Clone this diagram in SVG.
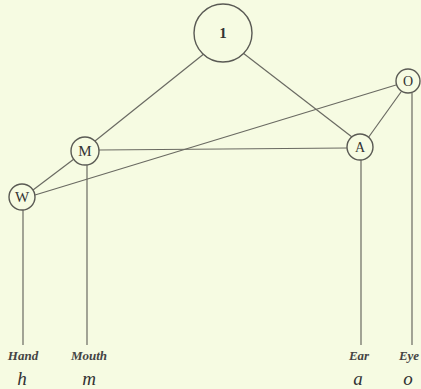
<svg xmlns="http://www.w3.org/2000/svg" width="421" height="389" viewBox="0 0 421 389">
<style>
.bg{fill:#f6fbe2}
.ln{stroke:#6a6a62;stroke-width:1.2;fill:none}
.nd{fill:#f6fbe2;stroke:#5a5a54;stroke-width:1.4}
.lt{font-family:"Liberation Serif",serif;fill:#333;text-anchor:middle}
.sc{font-family:"Liberation Serif",serif;font-style:italic;font-weight:bold;fill:#444;text-anchor:middle}
.lc{font-family:"Liberation Serif",serif;font-style:italic;font-weight:normal;fill:#333;text-anchor:middle}
</style>
<rect class="bg" width="421" height="389"/>
<g id="connectors">
<line class="ln" x1="205" y1="53" x2="95" y2="141"/>
<line class="ln" x1="243" y1="53" x2="352" y2="137"/>
<line class="ln" x1="396" y1="85" x2="35" y2="195"/>
<line class="ln" x1="401" y1="92" x2="368" y2="138"/>
<line class="ln" x1="99" y1="150" x2="347" y2="148"/>
<line class="ln" x1="74" y1="159" x2="33" y2="190"/>
<line class="ln" x1="23" y1="210" x2="23" y2="345"/>
<line class="ln" x1="87" y1="164" x2="87" y2="345"/>
<line class="ln" x1="361" y1="160" x2="361" y2="345"/>
<line class="ln" x1="412" y1="93" x2="412" y2="345"/>
</g>
<g id="node-1"><circle class="nd" cx="223" cy="33" r="29"/><text class="lt" x="223" y="38" font-size="15" font-weight="bold">1</text></g>
<g id="node-M"><circle class="nd" cx="85" cy="151" r="14"/><text class="lt" x="85" y="156" font-size="15">M</text></g>
<g id="node-W"><circle class="nd" cx="22" cy="197" r="13"/><text class="lt" x="22" y="202" font-size="15">W</text></g>
<g id="node-A"><circle class="nd" cx="360" cy="147" r="13"/><text class="lt" x="360" y="152" font-size="14">A</text></g>
<g id="node-O"><circle class="nd" cx="408" cy="81" r="12"/><text class="lt" x="408" y="86" font-size="14">O</text></g>
<g id="labels">
<text class="sc" x="23" y="360" font-size="13">Hand</text>
<text class="sc" x="89" y="360" font-size="13">Mouth</text>
<text class="sc" x="359" y="360" font-size="13">Ear</text>
<text class="sc" x="409" y="360" font-size="13">Eye</text>
<text class="lc" x="22" y="385" font-size="19">h</text>
<text class="lc" x="89" y="385" font-size="19">m</text>
<text class="lc" x="358" y="385" font-size="19">a</text>
<text class="lc" x="408" y="385" font-size="19">o</text>
</g>
</svg>
